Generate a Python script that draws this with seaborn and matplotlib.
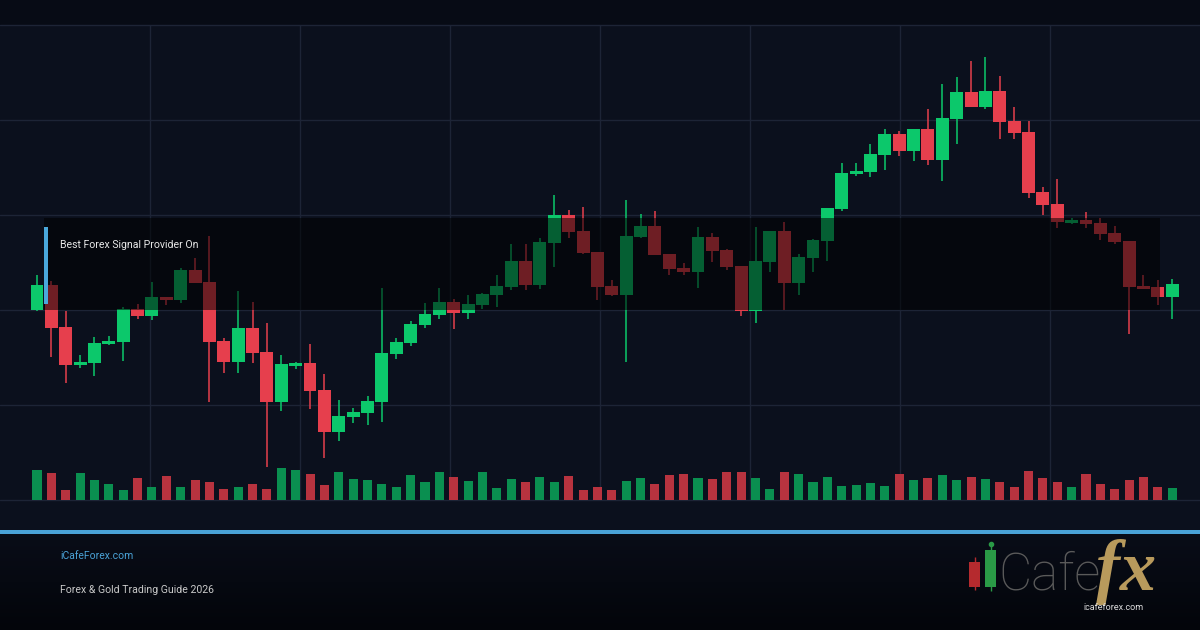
import numpy as np
import pandas as pd
import matplotlib
matplotlib.use("Agg")
import matplotlib.pyplot as plt
import seaborn as sns
from matplotlib.patches import Rectangle
from matplotlib.colors import LinearSegmentedColormap

# ---------------- data (price in chart points, volume in units) ----------------
opens  = [190,215,173,135,137,156,158,191,184,203,200,230,218,159,138,172,148,98,134,137,
          110,68,83,87,98,146,157,175,185,198,187,195,205,213,239,215,257,285,269,248,
          214,205,263,274,246,232,228,263,250,234,189,238,269,217,242,259,291,326,328,345,
          366,349,371,340,381,408,393,409,379,368,308,296,277,280,277,267,259,214,213,203]
highs  = [225,219,189,145,163,164,193,196,218,203,232,242,264,162,209,198,177,145,138,156,
          126,100,92,104,212,162,179,197,212,201,205,207,225,256,256,262,305,290,293,248,
          220,300,286,289,246,237,273,267,251,234,273,269,278,246,261,292,337,337,356,371,
          369,371,391,416,423,439,443,424,393,379,313,321,282,288,282,274,259,225,220,221]
lows   = [189,143,117,132,124,155,139,181,180,195,197,217,98,127,127,137,33,89,131,91,
          42,59,77,75,78,141,154,172,181,171,181,191,193,210,210,211,233,262,246,200,
          204,138,262,245,225,225,212,238,230,184,177,228,190,205,228,239,289,324,323,330,
          344,339,335,319,356,393,391,361,361,302,285,272,276,272,260,256,166,211,195,181]
closes = [215,172,135,138,157,159,191,184,203,200,230,217,158,138,172,147,98,136,137,109,
          68,84,88,99,147,158,176,186,198,187,196,206,214,239,215,258,285,268,247,213,
          205,264,274,245,231,228,263,249,233,189,239,269,217,243,260,292,327,329,346,366,
          349,371,340,382,408,393,409,378,367,307,295,278,280,276,266,258,213,211,203,216]
volumes = [30,27,10,27,20,16,10,22,13,24,13,20,18,11,13,16,11,32,30,26,
           15,28,21,20,16,13,25,18,28,23,19,28,12,21,18,23,18,24,10,13,
           10,19,22,16,25,26,22,21,28,28,22,11,28,26,18,23,14,15,17,14,
           26,20,22,25,20,23,21,18,13,29,22,18,13,26,16,11,20,23,13,12]

headline = "Best Forex Signal Provider On"
site_label = "iCafeForex.com"
subtitle = "Forex & Gold Trading Guide 2026"
logo_url = "icafeforex.com"

# ---------------- style ----------------
BG_PAGE = "#070b15"
BG_PANEL = "#0b101d"
GRID = "#1d2436"
UP = "#0cc86b"
DOWN = "#e63f4d"
VOL_UP = "#0a8f50"
VOL_DOWN = "#b8333f"

sns.set_theme(style="dark", rc={
    "axes.facecolor": BG_PANEL,
    "figure.facecolor": BG_PAGE,
    "axes.edgecolor": BG_PANEL,
})
plt.rcParams["font.family"] = ["Roboto", "DejaVu Sans"]

W, H = 1200, 630
fig = plt.figure(figsize=(12, 6.3), dpi=100)

def fx(px):
    return px / W

def fy(py):
    return 1 - py / H

# panel background 25..530 px
fig.patches.append(Rectangle((0, fy(530)), 1, fy(25) - fy(530), transform=fig.transFigure,
                             facecolor=BG_PANEL, edgecolor="none", zorder=0))
# footer gradient
gax = fig.add_axes([0, 0, 1, fy(534)], zorder=0)
grad = np.linspace(0, 1, 100).reshape(-1, 1)
cmap = LinearSegmentedColormap.from_list("foot", ["#03050a", "#090d18"])
gax.imshow(grad, aspect="auto", cmap=cmap, origin="lower", extent=[0, 1, 0, 1])
gax.set_axis_off()
# blue separator
fig.patches.append(Rectangle((0, fy(534)), 1, fy(530) - fy(534), transform=fig.transFigure,
                             facecolor="#4aa3d8", edgecolor="none", zorder=3))

# ---------------- chart axes ----------------
ax = fig.add_axes([0, fy(500), 1, fy(25) - fy(500)], zorder=2)
ax.set_facecolor("none")
n = len(opens)
idx = np.arange(n)
step = 14.37
x0 = -37 / step
x1 = (W - 37) / step
ax.set_xlim(x0, x1)
ax.set_ylim(0, 475)

df = pd.DataFrame({"i": idx, "open": opens, "high": highs, "low": lows,
                   "close": closes, "volume": volumes})
df["dir"] = np.where(df["close"] >= df["open"], "up", "down")

# grid
for k in range(1, 8):
    ax.axvline(x0 + k * (x1 - x0) / 8, color=GRID, lw=1, zorder=0)
for yv in [0, 95, 190, 285, 380, 475]:
    ax.axhline(yv, color=GRID, lw=1, zorder=0, clip_on=False)

# volume on twin axis
vax = ax.twinx()
vax.set_ylim(0, 475)
vax.set_facecolor("none")
sns.barplot(data=df, x="i", y="volume", hue="dir", palette={"up": VOL_UP, "down": VOL_DOWN},
            dodge=False, width=0.63, legend=False, ax=vax, native_scale=True,
            saturation=1, zorder=1, linewidth=0, edgecolor="none")
vax.set_xlim(x0, x1)

# candles
colors = [UP if d == "up" else DOWN for d in df["dir"]]
ax.vlines(df["i"], df["low"], df["high"], colors=colors, lw=1.1, zorder=3)
body_lo = np.minimum(df["open"], df["close"])
body_h = np.maximum(np.abs(df["close"] - df["open"]), 3)
ax.bar(df["i"], body_h, bottom=body_lo, width=0.9, color=colors, zorder=4, linewidth=0)

for a in (ax, vax):
    a.set_xticks([])
    a.set_yticks([])
    a.set_xlabel("")
    a.set_ylabel("")
    for s in a.spines.values():
        s.set_visible(False)
ax.set_xlim(x0, x1)

# dark overlay box with headline
fig.patches.append(Rectangle((fx(44), fy(310)), fx(1160) - fx(44), fy(218) - fy(310),
                             transform=fig.transFigure, facecolor="#000000", alpha=0.52,
                             edgecolor="none", zorder=5))
fig.patches.append(Rectangle((fx(44), fy(304)), fx(4), fy(227) - fy(304),
                             transform=fig.transFigure, facecolor="#4aa8dc",
                             edgecolor="none", zorder=6))
fig.text(fx(60), fy(245), headline, color="#e8e8e8", fontsize=7.6, va="center", ha="left",
         zorder=7)

# footer texts
fig.text(fx(60), fy(556), site_label, color="#4aa3d8", fontsize=7.5, va="center", ha="left", zorder=7)
fig.text(fx(60), fy(590), subtitle, color="#c9c9c9", fontsize=7.6, va="center", ha="left", zorder=7)

# logo
lax = fig.add_axes([fx(960), fy(615), fx(1180) - fx(960), fy(540) - fy(615)], zorder=7)
lax.set_xlim(960, 1180)
lax.set_ylim(615, 540)
lax.set_axis_off()
lax.vlines([974.5], 557, 590, color="#b52a2e", lw=1)
lax.add_patch(Rectangle((969, 562), 11, 25, facecolor="#b52a2e", edgecolor="none"))
lax.vlines([990.5], 545, 591, color="#2a9a46", lw=1)
lax.add_patch(Rectangle((985, 550), 11, 37, facecolor="#2a9a46", edgecolor="none"))
lax.plot([990.5], [544], "o", ms=3, color="#2a9a46")
lax.text(998, 590, "Cafe", color="#5a5a5a", fontsize=37, fontweight="light",
         va="baseline", ha="left", family=["Roboto", "DejaVu Sans"])
lax.text(1096, 590, "fx", color="#b89a5c", fontsize=52, fontweight="bold", fontstyle="italic",
         va="baseline", ha="left", family=["Liberation Serif", "DejaVu Serif"])
lax.text(1113, 608, logo_url, color="#dddddd", fontsize=6.5, va="center", ha="center")

fig.savefig("out.png", dpi=100, facecolor=BG_PAGE)
